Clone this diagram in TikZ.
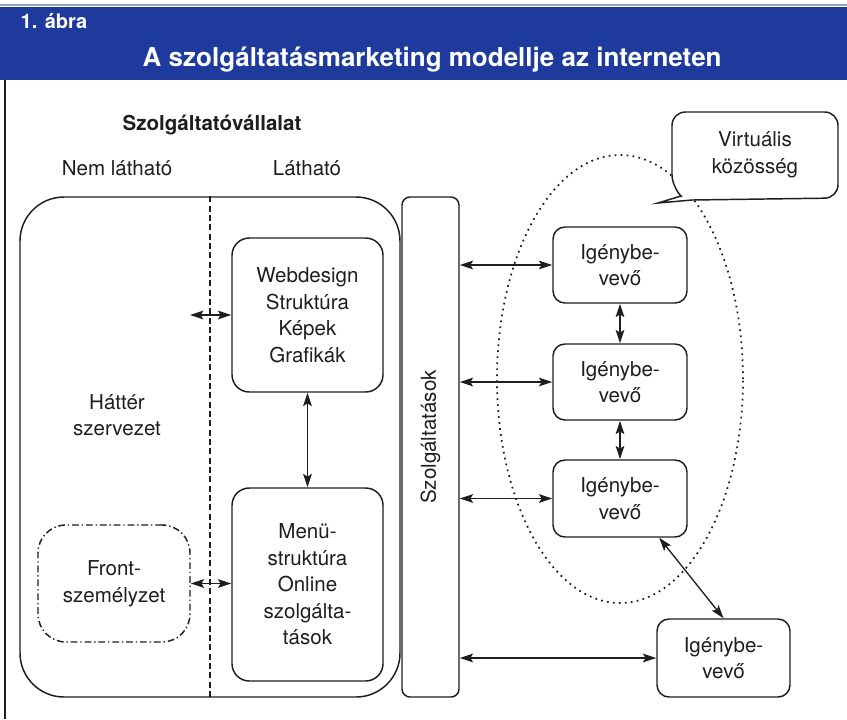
\documentclass[tikz,border=0pt]{standalone}
\usepackage{fontspec}
\setmainfont{TeX Gyre Heros}
\usetikzlibrary{arrows.meta,shapes.geometric}
\newdimen\pxu \pxu=0.75pt
\definecolor{hdrblue}{RGB}{30,58,156}
\definecolor{hdrline}{RGB}{150,165,190}
\definecolor{ink}{RGB}{30,30,30}
\begin{document}
\begin{tikzpicture}[x=0.75pt,y=-0.75pt,
  every node/.style={font=\fontsize{15.4}{19.9}\selectfont, text=ink, align=center},
  box/.style={draw=ink, line width=1.1pt, inner sep=0pt},
  arr/.style={draw=ink, line width=1pt, {Stealth[length=10pt,width=6.5pt,inset=2pt]}-{Stealth[length=10pt,width=6.5pt,inset=2pt]}},
  dashline/.style={draw=ink, line width=0.9pt, dash pattern=on 4.5pt off 2.5pt},
  dotline/.style={draw=ink, line width=1.3pt, dash pattern=on 1.3pt off 3.2pt},
  dashdotline/.style={dash pattern=on 5pt off 2.2pt on 1pt off 2.2pt},
  hdrtext/.style={text=white, font=\bfseries\fontsize{#1}{#1}\selectfont},
]
\useasboundingbox (0,0) rectangle (847,719);
\fill[white] (0,0) rectangle (847,719);
% header
\fill[hdrblue] (0,7) rectangle (847,80);
\draw[hdrline, line width=1.8pt] (0,5) -- (847,5);
\node[hdrtext=15, anchor=west] (fig) at (16,21) {1. ábra};
\node[hdrtext=19.5, anchor=west] (title) at (138,60) {A szolgáltatásmarketing modellje az interneten};
\draw[ink, line width=1.2pt] (5,80) -- (5,719);

% labels
\node[font=\bfseries\fontsize{15.4}{19}\selectfont] (company) at (212,125) {Szolgáltatóvállalat};
\node (nemlat) at (117,168) {Nem látható};
\node (lat) at (307,168) {Látható};

% company box
\node[box, rounded corners=33pt, minimum width=380\pxu, minimum height=500\pxu] (org) at (210,447) {};
\draw[dashline] (org.north) -- (org.south);
\node (hatter) at (117,415) {Háttér\\szervezet};
\node[box, dashdotline, rounded corners=21pt, minimum width=152\pxu, minimum height=117\pxu] (front) at (114,583.5) {Front-\\személyzet};
\node[box, rounded corners=13pt, minimum width=151\pxu, minimum height=154\pxu] (web) at (307.5,315) {Webdesign\\Struktúra\\Képek\\Grafikák};
\node[box, rounded corners=13pt, minimum width=151\pxu, minimum height=193\pxu] (menu) at (307.5,584.5) {Menü-\\struktúra\\Online\\szolgálta-\\tások};

% services column
\node[box, rounded corners=6pt, minimum width=57\pxu, minimum height=500\pxu] (szolg) at (430.5,447) {};
\node[rotate=90] (szolgtxt) at (430.5,437) {Szolgáltatások};

% virtual community
\node[dotline, ellipse, inner sep=0pt, minimum width=246\pxu, minimum height=448\pxu] (comm) at (620,379) {};
\draw[ink, line width=1.1pt, fill=white] (658,203) -- (692,200) [rounded corners=10pt] -- (838,198) -- (838,112) -- (672,112) -- (672,188) [sharp corners] -- (681,196) -- cycle;
\node (vktxt) at (755,155) {Virtuális\\közösség};

\node[box, rounded corners=9pt, minimum width=134\pxu, minimum height=76\pxu] (ig1) at (620,265) {Igénybe-\\vevő};
\node[box, rounded corners=9pt, minimum width=134\pxu, minimum height=76\pxu] (ig2) at (620,382) {Igénybe-\\vevő};
\node[box, rounded corners=9pt, minimum width=134\pxu, minimum height=77\pxu] (ig3) at (620,498.5) {Igénybe-\\vevő};
\node[box, rounded corners=9pt, minimum width=133\pxu, minimum height=78\pxu] (ig4) at (723.5,658) {Igénybe-\\vevő};

% connectors
\coordinate (wl) at (190,315);
\draw[arr] (wl) -- (web.west);
\draw[arr] (front.east) -- (front.east -| menu.west);
\draw[arr] (web.south) -- (menu.north);
\draw[arr] (szolg.east |- ig1.west) -- (ig1.west);
\draw[arr] (szolg.east |- ig2.west) -- (ig2.west);
\draw[arr] (szolg.east |- ig3.west) -- (ig3.west);
\draw[arr] (szolg.east |- ig4.west) -- (ig4.west);
\draw[arr] (ig1.south) -- (ig2.north);
\draw[arr] (ig2.south) -- (ig3.north);
\draw[arr] (ig3.-45) -- (ig4.north);
\end{tikzpicture}
\end{document}
